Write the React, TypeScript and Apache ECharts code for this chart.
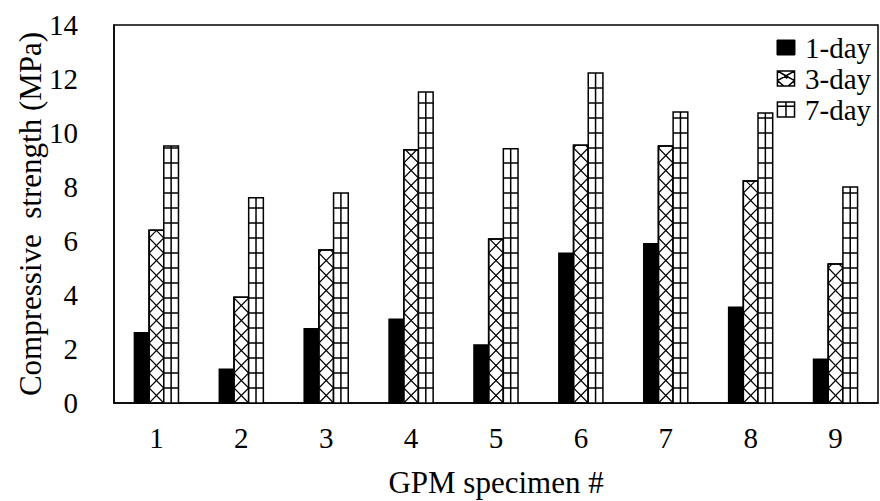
import React, { useEffect, useRef } from "react";
import * as echarts from "echarts";

const categories = ["1", "2", "3", "4", "5", "6", "7", "8", "9"];
const day1 = [2.6, 1.25, 2.75, 3.1, 2.15, 5.55, 5.9, 3.55, 1.62];
const day3 = [6.4, 3.92, 5.67, 9.38, 6.07, 9.55, 9.52, 8.22, 5.15];
const day7 = [9.52, 7.6, 7.78, 11.52, 9.42, 12.22, 10.78, 10.74, 8.0];
const seriesNames = ["1-day", "3-day", "7-day"];
const yTicks = { min: 0, max: 14, interval: 2 };

const FONT = "'Liberation Serif', 'Times New Roman', serif";
const BAR_FRAC = 0.173;
const STEP = 15;
const LW = 1.5;

const renderBar = (kind: number) => (params: any, api: any) => {
  const ci = api.value(0);
  const v = api.value(1);
  const base = api.coord([ci, 0]);
  const top = api.coord([ci, v]);
  const band = api.size([1, 0])[0];
  const w = band * BAR_FRAC;
  const x0 = base[0] + (kind - 1) * w - w / 2;
  const x1 = x0 + w;
  const yb = base[1];
  const yt = top[1];
  const H = yb - yt;
  const line = { stroke: "#000", lineWidth: LW };
  const children: any[] = [];
  children.push({
    type: "rect",
    shape: { x: x0, y: yt, width: w, height: H },
    style: { fill: kind === 0 ? "#000" : "#fff", stroke: "#000", lineWidth: LW },
  });
  if (kind === 2) {
    for (let y = yb - STEP; y > yt + 2; y -= STEP) {
      children.push({ type: "line", shape: { x1: x0, y1: y, x2: x1, y2: y }, style: line });
    }
    const xm = (x0 + x1) / 2;
    children.push({ type: "line", shape: { x1: xm, y1: yt, x2: xm, y2: yb }, style: line });
  }
  if (kind === 1) {
    const zig = (startLeft: boolean) => {
      const pts: number[][] = [];
      const xAt = (d: number) => {
        const ph = (d / STEP) % 2;
        const f = ph <= 1 ? ph : 2 - ph;
        return startLeft ? x0 + f * w : x1 - f * w;
      };
      for (let d = 0; d < H; d += STEP) pts.push([xAt(d), yb - d]);
      pts.push([xAt(H), yt]);
      return pts;
    };
    children.push({ type: "polyline", shape: { points: zig(true) }, style: { stroke: "#000", lineWidth: 1.2, fill: null } });
    children.push({ type: "polyline", shape: { points: zig(false) }, style: { stroke: "#000", lineWidth: 1.2, fill: null } });
    children.push({
      type: "rect",
      shape: { x: x0, y: yt, width: w, height: H },
      style: { fill: null, stroke: "#000", lineWidth: LW },
    });
  }
  return { type: "group", children };
};

const toData = (arr: number[]) => arr.map((v, i) => [i, v]);

export default function App() {
  const ref = useRef<HTMLDivElement>(null);
  useEffect(() => {
    if (!ref.current) return;
    const chart = echarts.init(ref.current, null, { renderer: "svg" });
    const allSeries = [day1, day3, day7];
    chart.setOption({
      animation: false,
      backgroundColor: "#fff",
      textStyle: { fontFamily: FONT, color: "#000" },
      grid: {
        left: 114,
        right: 2,
        top: 25,
        bottom: 98,
        show: true,
        borderColor: "#000",
        borderWidth: 1.5,
        backgroundColor: "transparent",
        outerBoundsMode: "none",
        containLabel: false,
      },
      legend: {
        orient: "vertical",
        right: 4,
        top: 28,
        itemWidth: 18,
        itemHeight: 15,
        itemGap: 2,
        textStyle: { fontFamily: FONT, fontSize: 29, color: "#000", padding: [0, 0, 0, 5] },
        data: [
          { name: "1-day", icon: "rect", itemStyle: { color: "#000", borderColor: "#000", borderWidth: 1 } },
          {
            name: "3-day",
            icon: "path://M0,0H16V14H0Z M0,0L16,9 M16,0L0,9 M0,9L6,14 M16,9L10,14 M6,4L9,7",
            itemStyle: { color: "#fff", borderColor: "#000", borderWidth: 1.5 },
          },
          {
            name: "7-day",
            icon: "path://M0,0H16V14H0Z M8,0V14 M0,4H16",
            itemStyle: { color: "#fff", borderColor: "#000", borderWidth: 1.5 },
          },
        ],
      },
      xAxis: {
        type: "category",
        data: categories,
        name: "GPM specimen #",
        nameLocation: "middle",
        nameGap: 64,
        nameMoveOverlap: false,
        nameTextStyle: { fontFamily: FONT, fontSize: 31, color: "#000" },
        axisLine: { show: true, lineStyle: { color: "#000", width: 1.5 } },
        axisTick: { show: false },
        axisLabel: { fontFamily: FONT, fontSize: 29, color: "#000", margin: 20 },
        splitLine: { show: false },
      },
      yAxis: {
        type: "value",
        min: yTicks.min,
        max: yTicks.max,
        interval: yTicks.interval,
        name: "Compressive  strength (MPa)",
        nameLocation: "middle",
        nameGap: 68,
        nameMoveOverlap: false,
        nameTextStyle: { fontFamily: FONT, fontSize: 31, color: "#000" },
        axisLine: { show: true, lineStyle: { color: "#000", width: 1.5 } },
        axisTick: { show: false },
        axisLabel: { fontFamily: FONT, fontSize: 29, color: "#000", margin: 36 },
        splitLine: { show: false },
      },
      series: allSeries.map((arr, k) => ({
        type: "custom",
        name: seriesNames[k],
        renderItem: renderBar(k),
        encode: { x: 0, y: 1 },
        itemStyle: { color: k === 0 ? "#000" : "#fff", borderColor: "#000" },
        data: toData(arr),
        clip: false,
      })),
    });
    return () => chart.dispose();
  }, []);
  return (
    <div
      ref={ref}
      style={{ position: "fixed", left: 0, top: 0, width: 880, height: 501, background: "#fff" }}
    />
  );
}
